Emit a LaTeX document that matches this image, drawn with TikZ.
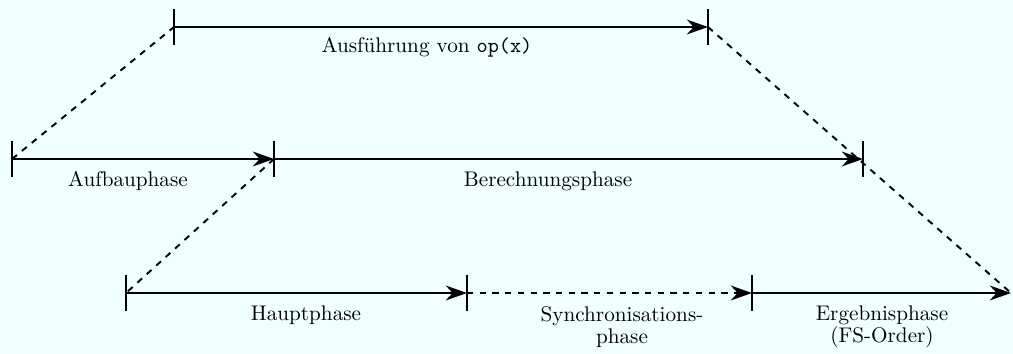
\documentclass[tikz,border=0pt]{standalone}
\usetikzlibrary{arrows.meta}
\definecolor{bgcol}{RGB}{240,255,255}
\begin{document}
\begin{tikzpicture}[x=0.472pt,y=-0.472pt,
  seg/.style={line width=0.95pt,-{Stealth[length=10pt,width=7pt,inset=3.2pt]}},
  dseg/.style={line width=0.9pt,dashed},
  tick/.style={line width=0.95pt},
  lbl/.style={anchor=north,inner sep=0pt,align=center}]
\fill[bgcol] (0,0) rectangle (1013,354);
\useasboundingbox (0,0) rectangle (1013,354);
% points
\coordinate (t1) at (174,27);
\coordinate (t2) at (708,27);
\coordinate (m1) at (12,159);
\coordinate (m2) at (274,159);
\coordinate (m3) at (863,159);
\coordinate (b1) at (126,293);
\coordinate (b2) at (467,293);
\coordinate (b3) at (752,293);
\coordinate (b4) at (1011,293);
% ticks
\foreach \p in {t1,t2,m1,m2,m3,b1,b2,b3}
  \draw[tick] ([yshift=8.5pt]\p) -- ([yshift=-8.5pt]\p);
% dashed connectors
\draw[dseg] (m1) -- (t1);
\draw[dseg] (t2) -- (b4);
\draw[dseg] (m2) -- (b1);
% phases
\draw[seg] (t1) -- (t2);
\draw[seg] (m1) -- (m2);
\draw[seg] (m2) -- (m3);
\draw[seg] (b1) -- (b2);
\draw[seg,dashed] (b2) -- (b3);
\draw[seg] (b3) -- (b4);
% labels
\node[lbl] (l1) at (427,37) {Ausf\"uhrung von \texttt{op(x)}};
\node[lbl] (l2) at (128,171) {Aufbauphase};
\node[lbl] (l3) at (548,171) {Berechnungsphase};
\node[lbl] (l4) at (306,305) {Hauptphase};
\node[lbl] (l5) at (622,306) {Synchronisations-\\[-1.5pt]phase};
\node[lbl] (l6) at (882,305) {Ergebnisphase\\[-1.5pt](FS-Order)};
\end{tikzpicture}
\end{document}
